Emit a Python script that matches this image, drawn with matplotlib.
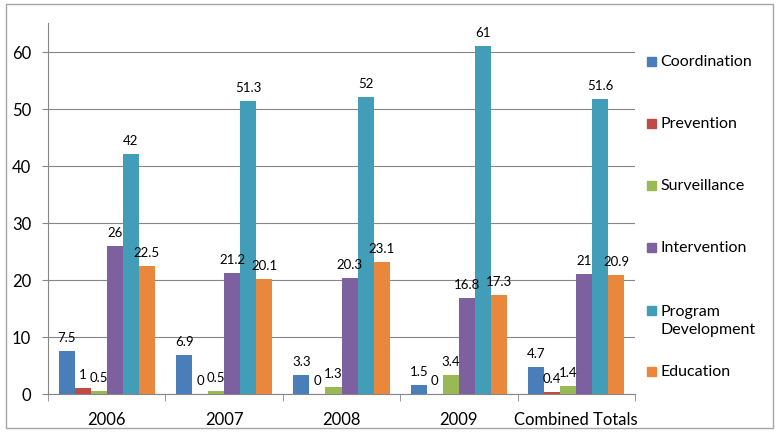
import numpy as np
import matplotlib
matplotlib.use("Agg")
import matplotlib.pyplot as plt
from matplotlib.patches import Rectangle

plt.rcParams["font.family"] = ["Lato", "DejaVu Sans"]

# chart data
categories = ["2006", "2007", "2008", "2009", "Combined Totals"]
series_names = ["Coordination", "Prevention", "Surveillance", "Intervention",
                "Program\nDevelopment", "Education"]
coordination = [7.5, 6.9, 3.3, 1.5, 4.7]
prevention = [1, 0, 0, 0, 0.4]
surveillance = [0.5, 0.5, 1.3, 3.4, 1.4]
intervention = [26, 21.2, 20.3, 16.8, 21]
program_development = [42, 51.3, 52, 61, 51.6]
education = [22.5, 20.1, 23.1, 17.3, 20.9]
yticks = [0, 10, 20, 30, 40, 50, 60]

series = [coordination, prevention, surveillance, intervention,
          program_development, education]
colors = ["#4A7EBB", "#BE4B48", "#98B954", "#7D60A0", "#429DB8", "#E9883C"]

fig = plt.figure(figsize=(7.79, 4.35), dpi=100)
ax = fig.add_axes([48 / 779, 40 / 435, 587 / 779, 371 / 435])

x = np.arange(len(categories))
n = len(series)
bar_w = 0.818 / n
for i, (vals, col) in enumerate(zip(series, colors)):
    pos = x - 0.409 + bar_w * (i + 0.5)
    ax.bar(pos, vals, width=bar_w, color=col, zorder=3)
    for px, v in zip(pos, vals):
        ax.annotate(f"{v:g}", (px, v), xytext=(0, 14), textcoords="offset pixels",
                    ha="center", va="center", fontsize=9.5, color="black", zorder=4)

ax.set_xlim(-0.5, len(categories) - 0.5)
ax.set_ylim(0, 65)
ax.set_yticks(yticks)
ax.tick_params(axis="y", length=4, color="#868686", labelsize=12, pad=8)
ax.yaxis.grid(True, color="#868686", linewidth=0.8, zorder=0)

ax.set_xticks(x)
ax.set_xticklabels(categories)
ax.set_xticks(np.arange(-0.5, len(categories)), minor=True)
ax.tick_params(axis="x", which="major", length=0, labelsize=12, pad=12)
ax.tick_params(axis="x", which="minor", length=5, color="#868686")

for side in ["top", "right"]:
    ax.spines[side].set_visible(False)
for side in ["left", "bottom"]:
    ax.spines[side].set_color("#868686")
    ax.spines[side].set_linewidth(0.8)

# legend drawn by hand, Excel style
leg_y = [62, 124, 186, 248, 311, 372]
for name, col, ly in zip(series_names, colors, leg_y):
    fy = 1 - ly / 435
    fig.patches.append(Rectangle((647 / 779, fy - 4.5 / 435), 9 / 779, 9 / 435,
                                 transform=fig.transFigure, color=col))
    if "\n" in name:
        # second line hangs below the marker, as in Excel
        fig.text(660 / 779, 1 - 321 / 435, name, fontsize=11.5, va="center",
                 ha="left", linespacing=1.45)
    else:
        fig.text(660 / 779, fy, name, fontsize=11.5, va="center", ha="left")

fig.patches.append(Rectangle((5.5 / 779, 6.5 / 435), 767 / 779, 424 / 435,
                             transform=fig.transFigure, fill=False,
                             edgecolor="#A6A6A6", linewidth=1))

fig.savefig("out.png", dpi=100)
